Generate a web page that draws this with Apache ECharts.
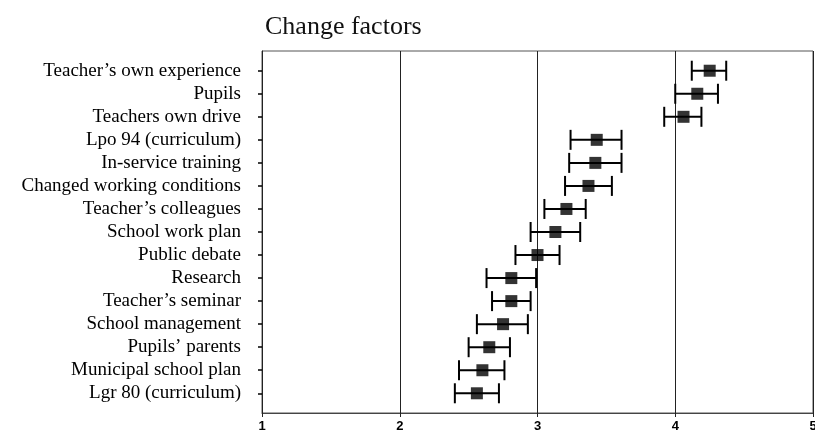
<!DOCTYPE html>
<html>
<head>
<meta charset="utf-8">
<script src="https://cdn.jsdelivr.net/npm/echarts@6/dist/echarts.min.js"></script>
<style>
html,body{margin:0;padding:0;background:#fff;}
#chart{width:815px;height:432px;}
</style>
</head>
<body>
<div id="chart"></div>
<script>
const titleText = "Change factors";
const categories = [
  "Teacher\u2019s own experience",
  "Pupils",
  "Teachers own drive",
  "Lpo 94 (curriculum)",
  "In-service training",
  "Changed working conditions",
  "Teacher\u2019s colleagues",
  "School work plan",
  "Public debate",
  "Research",
  "Teacher\u2019s seminar",
  "School management",
  "Pupils\u2019 parents",
  "Municipal school plan",
  "Lgr 80 (curriculum)"
];
const means = [4.25, 4.16, 4.06, 3.43, 3.42, 3.37, 3.21, 3.13, 3.00, 2.81, 2.81, 2.75, 2.65, 2.60, 2.56];
const lower = [4.12, 4.00, 3.92, 3.24, 3.23, 3.20, 3.05, 2.95, 2.84, 2.63, 2.67, 2.56, 2.50, 2.43, 2.40];
const upper = [4.37, 4.31, 4.19, 3.61, 3.61, 3.54, 3.35, 3.31, 3.16, 2.99, 2.95, 2.93, 2.80, 2.76, 2.72];
const xMin = 1, xMax = 5, xInterval = 1;

const chart = echarts.init(document.getElementById('chart'), null, {renderer: 'canvas'});

const errData = categories.map((c, i) => [lower[i], upper[i], i]);
const meanData = categories.map((c, i) => [means[i], i]);

const option = {
  animation: false,
  backgroundColor: '#ffffff',
  title: {
    text: titleText,
    left: 260,
    top: 9,
    textStyle: {fontFamily: 'Liberation Serif', fontSize: 26, fontWeight: 'normal', color: '#111'}
  },
  grid: [
    {left: 262, right: 2, top: 51, bottom: 19, show: true, borderColor: '#555', borderWidth: 1, containLabel: false, outerBoundsMode: 'none'},
    {left: 262, right: 2, top: 59.2, bottom: 27.2, containLabel: false, outerBoundsMode: 'none'}
  ],
  xAxis: [
    {
      gridIndex: 0, type: 'value', min: xMin, max: xMax, interval: xInterval,
      axisLine: {show: true, lineStyle: {color: '#444', width: 1}},
      axisTick: {show: true, length: 4, inside: false, lineStyle: {color: '#222'}},
      splitLine: {show: true, lineStyle: {color: '#222', width: 1}},
      axisLabel: {show: true, margin: 7, fontFamily: 'Liberation Sans', fontSize: 13, fontWeight: 'bold', color: '#000', hideOverlap: false}
    },
    {
      gridIndex: 1, type: 'value', min: xMin, max: xMax, show: false,
      splitLine: {show: false}
    }
  ],
  yAxis: [
    {
      gridIndex: 0, type: 'value', min: 0, max: 1,
      axisLine: {show: true, lineStyle: {color: '#222', width: 1}},
      axisTick: {show: false}, axisLabel: {show: false}, splitLine: {show: false}
    },
    {
      gridIndex: 1, type: 'category', data: categories, inverse: true,
      axisLine: {show: false},
      axisTick: {show: true, interval: 0, length: 4, inside: false, alignWithLabel: true, lineStyle: {color: '#000', width: 1.5}},
      splitLine: {show: false},
      axisLabel: {show: true, interval: 0, margin: 21, fontFamily: 'Liberation Serif', fontSize: 19, color: '#000'}
    }
  ],
  series: [
    {
      type: 'custom',
      xAxisIndex: 1, yAxisIndex: 1,
      data: errData,
      encode: {x: [0, 1], y: 2},
      renderItem: function (params, api) {
        const yi = api.value(2);
        const p1 = api.coord([api.value(0), yi]);
        const p2 = api.coord([api.value(1), yi]);
        const h = 10;
        const style = {stroke: '#000', lineWidth: 2};
        return {
          type: 'group',
          children: [
            {type: 'line', shape: {x1: p1[0], y1: p1[1], x2: p2[0], y2: p2[1]}, style: style},
            {type: 'line', shape: {x1: p1[0], y1: p1[1] - h, x2: p1[0], y2: p1[1] + h}, style: style},
            {type: 'line', shape: {x1: p2[0], y1: p2[1] - h, x2: p2[0], y2: p2[1] + h}, style: style}
          ]
        };
      },
      z: 3
    },
    {
      type: 'scatter',
      xAxisIndex: 1, yAxisIndex: 1,
      data: meanData,
      symbol: 'rect',
      symbolSize: 12,
      itemStyle: {color: '#000'},
      z: 4
    }
  ]
};
chart.setOption(option);
</script>
</body>
</html>
